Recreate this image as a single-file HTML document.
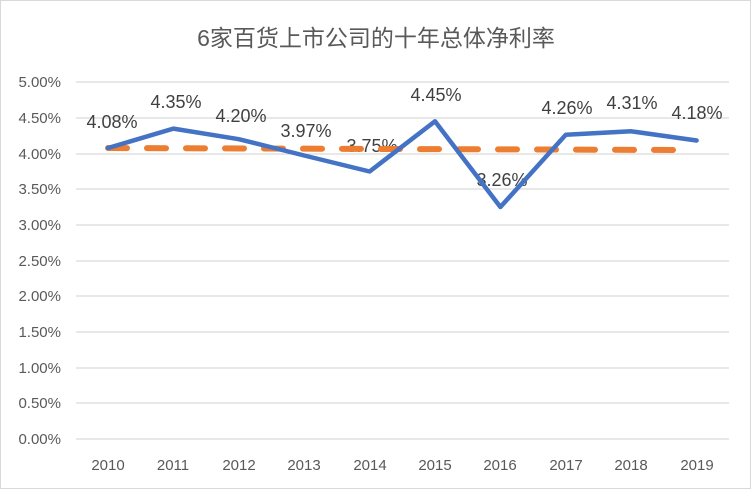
<!DOCTYPE html>
<html><head><meta charset="utf-8"><style>
body{margin:0;background:#fff}
svg{display:block}
text{font-family:"Liberation Sans","Noto Sans CJK SC",sans-serif}
</style></head><body>
<svg width="752" height="490" viewBox="0 0 752 490">
<rect x="0.5" y="0.5" width="750" height="488" fill="#fff" stroke="#d9d9d9"/>
<text x="376" y="46" font-size="23" fill="#595959" text-anchor="middle">6家百货上市公司的十年总体净利率</text>
<g stroke="#d9d9d9" stroke-width="1.3">
<line x1="76" x2="729" y1="82" y2="82"/><line x1="76" x2="729" y1="118" y2="118"/><line x1="76" x2="729" y1="154" y2="154"/><line x1="76" x2="729" y1="189" y2="189"/><line x1="76" x2="729" y1="225" y2="225"/><line x1="76" x2="729" y1="261" y2="261"/><line x1="76" x2="729" y1="296" y2="296"/><line x1="76" x2="729" y1="332" y2="332"/><line x1="76" x2="729" y1="368" y2="368"/><line x1="76" x2="729" y1="403" y2="403"/><line x1="76" x2="729" y1="439" y2="439"/>
</g>
<g font-size="15" fill="#595959" text-anchor="end">
<text x="61" y="87">5.00%</text><text x="61" y="123">4.50%</text><text x="61" y="159">4.00%</text><text x="61" y="194">3.50%</text><text x="61" y="230">3.00%</text><text x="61" y="266">2.50%</text><text x="61" y="301">2.00%</text><text x="61" y="337">1.50%</text><text x="61" y="373">1.00%</text><text x="61" y="408">0.50%</text><text x="61" y="444">0.00%</text>
</g>
<g font-size="15" fill="#595959" text-anchor="middle">
<text x="108" y="470">2010</text><text x="173" y="470">2011</text><text x="239" y="470">2012</text><text x="304" y="470">2013</text><text x="370" y="470">2014</text><text x="435" y="470">2015</text><text x="500" y="470">2016</text><text x="566" y="470">2017</text><text x="631" y="470">2018</text><text x="697" y="470">2019</text>
</g>
<g font-size="18" fill="#404040" text-anchor="middle">
<text x="112" y="128">4.08%</text><text x="176" y="108">4.35%</text><text x="241" y="122">4.20%</text><text x="306" y="137">3.97%</text><text x="372" y="152">3.75%</text><text x="436" y="101">4.45%</text><text x="502" y="186">3.26%</text><text x="567" y="114">4.26%</text><text x="632" y="109">4.31%</text><text x="697" y="119">4.18%</text>
</g>
<line x1="108" y1="148" x2="682" y2="150" stroke="#ed7d31" stroke-width="6" stroke-dasharray="19 20" stroke-linecap="round"/>
<polyline fill="none" stroke="#4472c4" stroke-width="4.5" stroke-linejoin="round" stroke-linecap="round" points="108,148 173.4,128.6 238.8,139.2 304.2,155.5 369.6,171.5 435,121.3 500.4,207 565.8,134.8 631.2,131.3 696.6,140.5"/>
</svg>
</body></html>
